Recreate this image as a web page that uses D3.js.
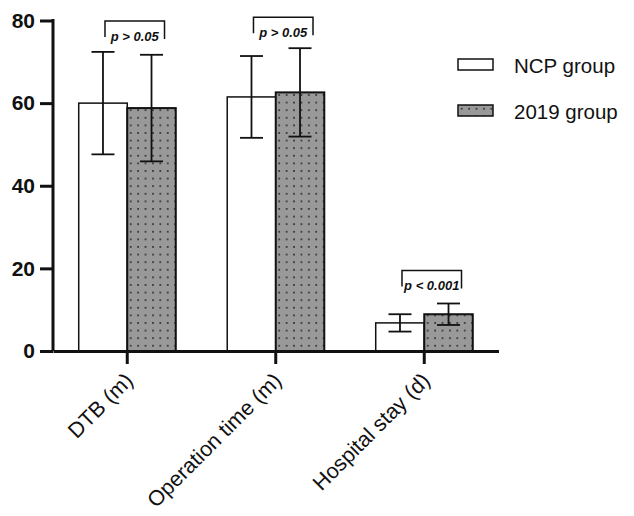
<!DOCTYPE html>
<html>
<head>
<meta charset="utf-8">
<script src="https://cdn.jsdelivr.net/npm/d3@7"></script>
<style>
  body { margin: 0; background: #fff; }
  svg { display: block; }
</style>
</head>
<body>
<div id="chart"></div>
<script>
// Données
const categories = ["DTB (m)", "Operation time (m)", "Hospital stay (d)"];
const groups = ["NCP group", "2019 group"];
const ncpMean = [60.0, 61.5, 6.8];
const ncpSd = [12.4, 9.9, 2.1];
const g2019Mean = [58.8, 62.6, 8.9];
const g2019Sd = [12.9, 10.7, 2.6];
const pLabels = ["p > 0.05", "p > 0.05", "p < 0.001"];
const yTicks = [0, 20, 40, 60, 80];

const width = 634, height = 516;
const margin = { top: 20.5, left: 53, bottom: 165, right: 135.5 };
const plotBottom = height - margin.bottom; // 351

const svg = d3.select("#chart").append("svg")
    .attr("width", width)
    .attr("height", height);

// motif pointillé pour le groupe 2019
const defs = svg.append("defs");
const pat = defs.append("pattern")
    .attr("id", "dots")
    .attr("patternUnits", "userSpaceOnUse")
    .attr("width", 7.4)
    .attr("height", 7.6);
pat.append("rect").attr("width", 7.4).attr("height", 7.6).attr("fill", "#999");
pat.append("rect").attr("x", 3).attr("y", 3).attr("width", 1.5).attr("height", 1.5).attr("fill", "#111");

const x = d3.scaleBand()
    .domain(categories)
    .range([margin.left, width - margin.right])
    .paddingInner(0)
    .paddingOuter(0);

const y = d3.scaleLinear()
    .domain([0, 80])
    .range([plotBottom, margin.top]);

const inner = d3.scaleBand()
    .domain(groups)
    .range([0, x.bandwidth()])
    .paddingOuter(0.53)
    .paddingInner(0);

const data = categories.map((c, i) => ({
    cat: c,
    values: [
        { group: groups[0], mean: ncpMean[i], sd: ncpSd[i] },
        { group: groups[1], mean: g2019Mean[i], sd: g2019Sd[i] }
    ]
}));

const catG = svg.selectAll(".cat")
    .data(data)
    .enter().append("g")
    .attr("transform", d => `translate(${x(d.cat)},0)`);

// barres
catG.selectAll("rect.bar")
    .data(d => d.values)
    .enter().append("rect")
    .attr("class", "bar")
    .attr("x", d => inner(d.group))
    .attr("y", d => y(d.mean))
    .attr("width", inner.bandwidth())
    .attr("height", d => y(0) - y(d.mean))
    .attr("fill", d => d.group === groups[0] ? "#fff" : "url(#dots)")
    .attr("stroke", "#111")
    .attr("stroke-width", d => d.group === groups[0] ? 1.5 : 2);

// barres d'erreur
const capW = 23;
const err = catG.selectAll("g.err")
    .data(d => d.values)
    .enter().append("g")
    .attr("class", "err")
    .attr("stroke", "#111")
    .attr("stroke-width", 1.8);
err.append("line")
    .attr("x1", d => inner(d.group) + inner.bandwidth() / 2)
    .attr("x2", d => inner(d.group) + inner.bandwidth() / 2)
    .attr("y1", d => y(d.mean + d.sd))
    .attr("y2", d => y(d.mean - d.sd));
err.selectAll("line.cap")
    .data(d => [d.mean + d.sd, d.mean - d.sd].map(v => ({ v, g: d.group })))
    .enter().append("line")
    .attr("class", "cap")
    .attr("x1", d => inner(d.g) + inner.bandwidth() / 2 - capW / 2)
    .attr("x2", d => inner(d.g) + inner.bandwidth() / 2 + capW / 2)
    .attr("y1", d => y(d.v))
    .attr("y2", d => y(d.v));

// crochets de significativité
catG.each(function (d, i) {
    const g = d3.select(this);
    const top = d3.max(d.values, v => v.mean + v.sd);
    const yTop = y(top) - (i === 2 ? 33 : 31);
    const x1 = inner(groups[0]) + inner.bandwidth() / 2 + 2;
    const x2 = inner(groups[1]) + inner.bandwidth() / 2 + 13;
    g.append("path")
        .attr("d", `M${x1},${yTop + 16}V${yTop}H${x2}V${yTop + 18}`)
        .attr("fill", "none")
        .attr("stroke", "#111")
        .attr("stroke-width", 1.5);
    g.append("text")
        .attr("x", (x1 + x2) / 2)
        .attr("y", yTop + 20)
        .attr("text-anchor", "middle")
        .attr("font-family", "'Liberation Sans Narrow', Arial, sans-serif")
        .attr("font-size", 13)
        .attr("font-style", "italic")
        .attr("font-weight", "bold")
        .attr("fill", "#111")
        .text(pLabels[i]);
});

// axe Y
const yAxis = svg.append("g")
    .attr("transform", `translate(${margin.left},0)`)
    .call(d3.axisLeft(y).tickValues(yTicks).tickSize(13).tickPadding(5));
yAxis.select(".domain").attr("d", `M0,${y(80) - 1.5}V${plotBottom}`);
yAxis.selectAll("line, path").attr("stroke", "#111").attr("stroke-width", 3);
yAxis.selectAll("text")
    .attr("font-family", "Arial, 'Liberation Sans', sans-serif")
    .attr("font-size", 21)
    .attr("font-weight", "bold")
    .attr("fill", "#111");

// axe X
const xAxis = svg.append("g")
    .attr("transform", `translate(0,${plotBottom})`)
    .call(d3.axisBottom(x).tickSize(13).tickSizeOuter(0));
xAxis.selectAll("line, path").attr("stroke", "#111").attr("stroke-width", 3);
xAxis.selectAll("text")
    .attr("font-family", "Arial, 'Liberation Sans', sans-serif")
    .attr("font-size", 21.5)
    .attr("fill", "#111")
    .attr("text-anchor", "end")
    .attr("dy", null)
    .attr("y", null)
    .attr("transform", "translate(7,31) rotate(-45)");

// légende
const legend = svg.append("g")
    .attr("transform", "translate(458,59)");
const items = legend.selectAll("g")
    .data(groups)
    .enter().append("g")
    .attr("transform", (d, i) => `translate(0,${i * 46})`);
items.append("rect")
    .attr("width", 35)
    .attr("height", 11)
    .attr("fill", (d, i) => i === 0 ? "#fff" : "url(#dots)")
    .attr("stroke", "#111")
    .attr("stroke-width", 1.5);
items.append("text")
    .attr("x", 56)
    .attr("y", 14)
    .attr("font-family", "Arial, 'Liberation Sans', sans-serif")
    .attr("font-size", 20.5)
    .attr("fill", "#111")
    .text(d => d);
</script>
</body>
</html>
